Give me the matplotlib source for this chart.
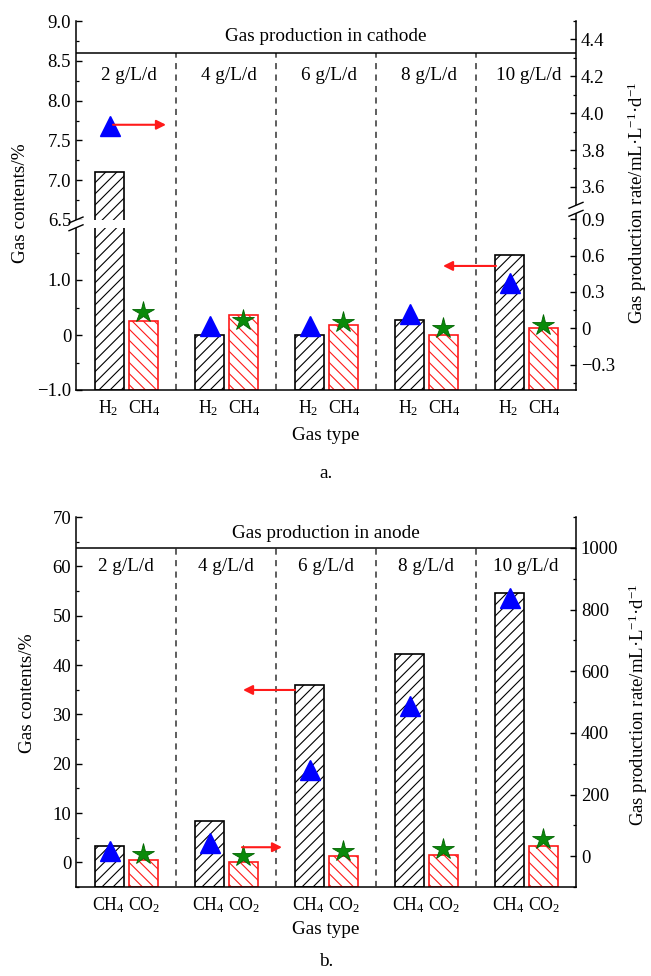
import numpy as np
import matplotlib
matplotlib.use('Agg')
import matplotlib.pyplot as plt
from matplotlib.ticker import FixedLocator, FixedFormatter
from matplotlib.patches import Rectangle

plt.rcParams['font.family'] = ['Liberation Serif', 'DejaVu Serif']
plt.rcParams['mathtext.default'] = 'regular'
plt.rcParams['font.size'] = 13.5
plt.rcParams['hatch.linewidth'] = 0.8

# ---------------- data ----------------
groups = ['2 g/L/d', '4 g/L/d', '6 g/L/d', '8 g/L/d', '10 g/L/d']

cath_labels = ['H$_2$', 'CH$_4$']
cath_h2_content = [7.1, 0.0, 0.0, 0.28, 1.45]
cath_ch4_content = [0.25, 0.36, 0.18, 0.0, 0.12]
cath_h2_rate = [3.93, 0.02, 0.02, 0.117, 0.37]
cath_ch4_rate = [0.135, 0.066, 0.052, 0.0, 0.025]

anode_labels = ['CH$_4$', 'CO$_2$']
anode_ch4_content = [3.25, 8.47, 36.0, 42.15, 54.55]
anode_co2_content = [0.5, 0.15, 1.2, 1.5, 3.4]
anode_ch4_rate = [17, 42, 281, 487, 838]
anode_co2_rate = [7, 2, 16, 24, 56]

# annotation arrows: (x_start, x_end, y on right axis)
cath_arrows = [(-0.13, 0.40, 3.937), (3.70, 3.17, 0.515)]
anode_arrows = [(1.69, 1.17, 539), (1.16, 1.56, 29)]

FS = 13.8

# ---------------- helpers ----------------
def piecewise(vals, pix):
    vals = np.asarray(vals, float)
    pix = np.asarray(pix, float)
    s0 = (pix[1] - pix[0]) / (vals[1] - vals[0])
    s1 = (pix[-1] - pix[-2]) / (vals[-1] - vals[-2])

    def fwd(v):
        v = np.asarray(v, float)
        out = np.interp(v, vals, pix)
        out = np.where(v < vals[0], pix[0] + (v - vals[0]) * s0, out)
        out = np.where(v > vals[-1], pix[-1] + (v - vals[-1]) * s1, out)
        return out

    def inv(p):
        p = np.asarray(p, float)
        out = np.interp(p, pix, vals)
        out = np.where(p < pix[0], vals[0] + (p - pix[0]) / s0, out)
        out = np.where(p > pix[-1], vals[-1] + (p - pix[-1]) / s1, out)
        return out
    return fwd, inv


W, H = 651, 976
fig = plt.figure(figsize=(W / 100, H / 100), dpi=100)

off_a, off_b, bw = -0.165, 0.17, 0.29
x = np.arange(len(groups))
RED = '#ff1a1a'


def style_axes(ax, axr):
    ax.set_xlim(-0.5, len(groups) - 0.5)
    for s in ['top', 'right']:
        ax.spines[s].set_visible(False)
    for s in ['top', 'left', 'bottom']:
        axr.spines[s].set_visible(False)
    for a in (ax, axr):
        for s in a.spines.values():
            s.set_linewidth(1.1)
        a.tick_params(which='major', direction='in', length=4, width=1.0, labelsize=13.5)
        a.tick_params(which='minor', direction='in', length=2.2, width=0.9)
    ax.tick_params(axis='x', length=0, pad=6, labelsize=12.8)
    ticks = np.concatenate([x + off_a - 0.01, x + off_b + 0.01])
    return ticks


def draw_bars(ax, a_vals, b_vals, base):
    a_vals = np.asarray(a_vals, float)
    b_vals = np.asarray(b_vals, float)
    ax.bar(x + off_a, a_vals - base, bottom=base, width=bw, facecolor='white',
           edgecolor='black', hatch='///', linewidth=1.2, zorder=2)
    ax.bar(x + off_b, b_vals - base, bottom=base, width=bw, facecolor='white',
           edgecolor=RED, hatch='\\\\\\', linewidth=1.2, zorder=2)


def draw_markers(axr, a_rate, b_rate):
    axr.plot(x + off_a, a_rate, linestyle='none', marker='^', ms=14,
             color='#0000ff', zorder=5)
    axr.plot(x + off_b, b_rate, linestyle='none', marker='*', ms=16,
             color='#0a8a0a', markeredgecolor='#006400', markeredgewidth=0.6, zorder=5)


def draw_arrows(axr, arrows):
    for xs, xe, yv in arrows:
        axr.annotate('', xy=(xe, yv), xytext=(xs, yv),
                     arrowprops=dict(arrowstyle='-|>', color=RED, lw=1.5,
                                     mutation_scale=14, shrinkA=0, shrinkB=0),
                     zorder=6)

# ================= panel a =================
ax = fig.add_axes([76 / W, 1 - 390 / H, 500 / W, 369 / H])
axr = ax.twinx()

L_vals, L_pix = [-1.0, 1.95, 6.5, 9.0], [0, 162.25, 170, 369]
R_vals, R_pix = [-0.51, 0.95, 3.5, 4.5], [0, 176.7, 184.7, 369]
lf, li = piecewise(L_vals, L_pix)
rf, ri = piecewise(R_vals, R_pix)
ax.set_yscale('function', functions=(lf, li))
axr.set_yscale('function', functions=(rf, ri))
ax.set_ylim(L_vals[0], L_vals[-1])
axr.set_ylim(R_vals[0], R_vals[-1])

tk = style_axes(ax, axr)
ax.set_xticks(tk)
ax.set_xticklabels(cath_labels[:1] * len(groups) + cath_labels[1:] * len(groups))

lmaj = [-1, 0, 1, 6.5, 7.0, 7.5, 8.0, 8.5, 9.0]
lmaj_lab = ['\u22121.0', '0', '1.0', '6.5', '7.0', '7.5', '8.0', '8.5', '9.0']
lmin = [-0.5, 0.5, 1.5, 6.75, 7.25, 7.75, 8.25, 8.75]
ax.yaxis.set_major_locator(FixedLocator(lmaj))
ax.yaxis.set_major_formatter(FixedFormatter(lmaj_lab))
ax.yaxis.set_minor_locator(FixedLocator(lmin))

rmaj = [-0.3, 0, 0.3, 0.6, 0.9, 3.6, 3.8, 4.0, 4.2, 4.4]
rmaj_lab = ['\u22120.3', '0', '0.3', '0.6', '0.9', '3.6', '3.8', '4.0', '4.2', '4.4']
rmin = [-0.45, -0.15, 0.15, 0.45, 0.75, 3.7, 3.9, 4.1, 4.3, 4.5]
axr.yaxis.set_major_locator(FixedLocator(rmaj))
axr.yaxis.set_major_formatter(FixedFormatter(rmaj_lab))
axr.yaxis.set_minor_locator(FixedLocator(rmin))

draw_bars(ax, cath_h2_content, cath_ch4_content, L_vals[0])
# gap of broken axis
ax.axhspan(L_vals[1], L_vals[2], color='white', zorder=2.2, lw=0)
title_a = 8.6
ax.axhline(title_a, color='black', lw=1.1, zorder=3)
ax.vlines(x[:-1] + 0.5, L_vals[0], title_a, colors='#333333', linestyles=(0, (4, 3.5)),
          lw=1.1, zorder=2.4)
for i, g in enumerate(groups):
    ax.text(i + 0.03, 8.32, g, ha='center', va='center', fontsize=FS, zorder=4)
ax.text(2, 8.8, 'Gas production in cathode', ha='center', va='center', fontsize=FS)

draw_markers(axr, cath_h2_rate, cath_ch4_rate)
draw_arrows(axr, cath_arrows)

# break marks
Htot = 369.0
def frac_from_pix(p):
    return p / Htot

for axis_x, (p0, p1) in [(0.0, (L_pix[1], L_pix[2])), (1.0, (R_pix[1], R_pix[2]))]:
    tgt = ax if axis_x == 0.0 else axr
    tgt.add_patch(Rectangle((axis_x - 0.006, frac_from_pix(p0)), 0.012,
                            frac_from_pix(p1) - frac_from_pix(p0),
                            transform=ax.transAxes, facecolor='white', edgecolor='none',
                            clip_on=False, zorder=10))
    for p in (p0, p1):
        yc = frac_from_pix(p)
        tgt.plot([axis_x - 0.014, axis_x + 0.014], [yc - 0.008, yc + 0.008],
                 transform=ax.transAxes, color='black', lw=1.0, clip_on=False, zorder=11)

fig.text(21 / W, 1 - 203 / H, 'Gas contents/%', rotation=90, ha='center', va='center', fontsize=FS)
fig.text(637 / W, 1 - 203 / H, 'Gas production rate/mL\u00b7L$^{-1}$\u00b7d$^{-1}$',
         rotation=90, ha='center', va='center', fontsize=13.5)
fig.text(326 / W, 1 - 436 / H, 'Gas type', ha='center', va='center', fontsize=FS)
fig.text(326 / W, 1 - 473 / H, 'a.', ha='center', va='center', fontsize=FS)

# ================= panel b =================
bx = fig.add_axes([76 / W, 1 - 887 / H, 500 / W, 370 / H])
bxr = bx.twinx()
bx.set_ylim(-5, 70)
bxr.set_ylim(-100, 1100)
tk = style_axes(bx, bxr)
bx.set_xticks(tk)
bx.set_xticklabels(anode_labels[:1] * len(groups) + anode_labels[1:] * len(groups))
bx.yaxis.set_major_locator(FixedLocator(np.arange(0, 71, 10)))
bx.yaxis.set_minor_locator(FixedLocator(np.arange(-5, 71, 5)))
bxr.yaxis.set_major_locator(FixedLocator(np.arange(0, 1001, 200)))
bxr.yaxis.set_minor_locator(FixedLocator(np.arange(-100, 1101, 100)))

draw_bars(bx, anode_ch4_content, anode_co2_content, -5)
title_b = 1000
bxr.axhline(title_b, color='black', lw=1.1, zorder=3)
bxr.vlines(x[:-1] + 0.5, -100, title_b, colors='#333333', linestyles=(0, (4, 3.5)),
           lw=1.1, zorder=1)
for i, g in enumerate(groups):
    bx.text(i + 0.0, 60, g, ha='center', va='center', fontsize=FS)
bx.text(2, 66.7, 'Gas production in anode', ha='center', va='center', fontsize=FS)

draw_markers(bxr, anode_ch4_rate, anode_co2_rate)
draw_arrows(bxr, anode_arrows)

fig.text(28 / W, 1 - 693 / H, 'Gas contents/%', rotation=90, ha='center', va='center', fontsize=FS)
fig.text(638 / W, 1 - 705 / H, 'Gas production rate/mL\u00b7L$^{-1}$\u00b7d$^{-1}$',
         rotation=90, ha='center', va='center', fontsize=13.5)
fig.text(326 / W, 1 - 929 / H, 'Gas type', ha='center', va='center', fontsize=FS)
fig.text(326 / W, 1 - 961 / H, 'b.', ha='center', va='center', fontsize=FS)

fig.savefig('out.png', dpi=100)
